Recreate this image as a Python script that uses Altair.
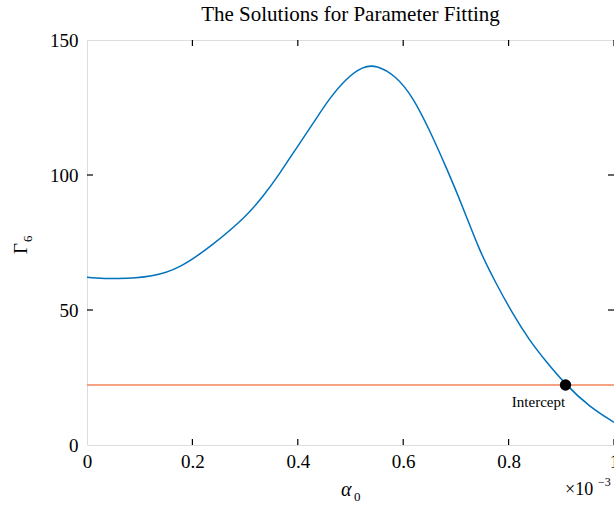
import altair as alt
import pandas as pd

# curve values (alpha_0 in units of 1e-3)
alpha0 = [0.0, 0.057, 0.126, 0.176, 0.239, 0.302, 0.334, 0.366, 0.397, 0.429,
          0.460, 0.492, 0.523, 0.549, 0.587, 0.618, 0.650, 0.681, 0.713,
          0.744, 0.776, 0.807, 0.839, 0.871, 0.908, 0.953, 1.0]
gamma6 = [62.1, 61.4, 62.3, 65.4, 74.1, 84.6, 92.0, 100.6, 109.9, 119.1,
          128.4, 135.8, 140.2, 140.8, 136.6, 129.0, 116.7, 103.1, 88.3,
          72.2, 59.9, 48.8, 38.9, 30.9, 22.4, 14.2, 8.4]

level = [22.2]
intercept_x = [0.908]
intercept_y = [22.2]
intercept_label = ["Intercept"]

x_labels = [0, 0.2, 0.4, 0.6, 0.8, 1.0]
y_labels = [0, 50, 100, 150]
x_inner_ticks = [0.2, 0.4, 0.6, 0.8, 1.0]
y_inner_ticks = [50, 100]

W, H = 527, 405
FONT = "Liberation Serif"

curve = pd.DataFrame({"a": alpha0, "g": gamma6})
pt = pd.DataFrame({"a": intercept_x, "g": intercept_y, "t": intercept_label})
lv = pd.DataFrame({"g": level})
xt = pd.DataFrame({"a": x_inner_ticks})
yt = pd.DataFrame({"g": y_inner_ticks})

xs = alt.Scale(domain=[0, 1], nice=False, zero=False)
ys = alt.Scale(domain=[0, 150], nice=False, zero=False)

xaxis = alt.Axis(values=x_labels, format="~g", ticks=False, domain=False, grid=False,
                 title=None, labelFont=FONT, labelFontSize=19, labelColor="black",
                 labelPadding=7, labelFlush=False, labelOverlap=False)
yaxis = alt.Axis(values=y_labels, ticks=False, domain=False, grid=False, title=None,
                 labelFont=FONT, labelFontSize=19, labelColor="black", labelPadding=9,
                 labelOverlap=False)

line = alt.Chart(curve).mark_line(color="#0072BD", strokeWidth=1.5, interpolate="basis").encode(
    x=alt.X("a:Q", scale=xs, axis=xaxis),
    y=alt.Y("g:Q", scale=ys, axis=yaxis),
)

hline = alt.Chart(lv).mark_rule(color="#F0845A", strokeWidth=1.5).encode(
    y=alt.Y("g:Q", scale=ys),
)

dot = alt.Chart(pt).mark_circle(color="black", opacity=1, size=130).encode(
    x=alt.X("a:Q", scale=xs), y=alt.Y("g:Q", scale=ys)
)
lab = alt.Chart(pt).mark_text(font=FONT, fontSize=15, color="black", dx=-27, dy=17,
                              align="center", baseline="middle").encode(
    x=alt.X("a:Q", scale=xs), y=alt.Y("g:Q", scale=ys), text="t:N"
)

tick_style = dict(color="black", strokeWidth=1.2)
bt = alt.Chart(xt).mark_rule(**tick_style).encode(x=alt.X("a:Q", scale=xs), y=alt.value(H), y2=alt.value(H - 6))
tt = alt.Chart(xt).mark_rule(**tick_style).encode(x=alt.X("a:Q", scale=xs), y=alt.value(0), y2=alt.value(6))
lt = alt.Chart(yt).mark_rule(**tick_style).encode(y=alt.Y("g:Q", scale=ys), x=alt.value(0), x2=alt.value(6))
rt = alt.Chart(yt).mark_rule(**tick_style).encode(y=alt.Y("g:Q", scale=ys), x=alt.value(W), x2=alt.value(W - 6))

def txt(s, x, y, size=18, style="normal", angle=0, align="left"):
    return alt.Chart(pd.DataFrame({"t": [s]})).mark_text(
        font=FONT, fontSize=size, fontStyle=style, color="black", align=align,
        baseline="alphabetic", angle=angle
    ).encode(text="t:N", x=alt.value(x), y=alt.value(y))

alpha_t = txt("α", 254, 456, size=20, style="italic")
alpha_s = txt("0", 267, 461, size=13)
exp_t = txt("×10", 478, 455, size=18)
exp_s = txt("−3", 511, 446, size=12)
gam_t = txt("Γ", -60, 214, size=19, angle=270)
gam_s = txt("6", -55, 202, size=13, angle=270)

chart = alt.layer(hline, line, dot, lab, bt, tt, lt, rt,
                  alpha_t, alpha_s, exp_t, exp_s, gam_t, gam_s).properties(
    width=W, height=H,
    padding={"left": 87, "top": 40, "right": 0, "bottom": 60},
    autosize=alt.AutoSizeParams(type="none"),
    title=alt.TitleParams("The Solutions for Parameter Fitting", font=FONT, fontSize=21,
                          fontWeight="normal", color="black", anchor="middle", offset=6),
).configure_view(stroke="black", strokeWidth=1.3).configure(background="white")

chart.save("out.html", embed_options={"renderer": "svg", "actions": False})
